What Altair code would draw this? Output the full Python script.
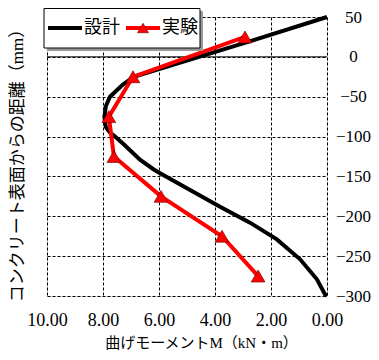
import altair as alt
import pandas as pd

# Design curve (設計): moment M (kN·m) vs distance from concrete surface (mm)
design_m = [0.00, 2.79, 6.90, 7.30, 7.60, 7.75, 7.90, 7.95, 7.90, 7.75, 7.57, 7.25, 6.68, 6.20, 5.96,
            4.89, 3.82, 2.75, 1.79, 0.96, 0.36, 0.07, 0.00]
design_y = [50, 19, -25, -35, -45, -50, -62, -75, -88, -95, -100, -110, -129, -141, -146,
            -167, -188, -208, -229, -254, -279, -298, -300]

# Experiment (実験)
exp_m = [2.93, 6.93, 7.79, 7.61, 5.93, 3.75, 2.46]
exp_y = [25, -25, -75, -125, -175, -225, -275]

x_ticks = [0, 2, 4, 6, 8, 10]
y_ticks = [-300, -250, -200, -150, -100, -50, 0, 50]

SERIF = "Liberation Serif, Noto Sans CJK JP"

design = pd.DataFrame({"m": design_m, "y": design_y, "i": list(range(len(design_m)))})
exp = pd.DataFrame({"m": exp_m, "y": exp_y, "i": list(range(len(exp_m)))})

xscale = alt.Scale(domain=[0, 10], reverse=True, nice=False)
yscale = alt.Scale(domain=[-300, 50], nice=False)

xaxis = alt.Axis(values=x_ticks, format=".2f", title="曲げモーメントM（kN・m）",
                 grid=True, gridColor="black", gridDash=[3, 2], gridWidth=1, gridOpacity=1,
                 ticks=False, tickSize=0, domain=False, labelFlush=False,
                 labelFont=SERIF, labelFontSize=18, labelColor="black",
                 labelPadding=15, labelBaseline="top",
                 titleFont=SERIF, titleFontSize=15, titleFontWeight="normal", titleColor="black",
                 titleX=154, titleY=46, titleBaseline="middle")

yaxis_right = alt.Axis(orient="right", values=y_ticks, format="d", title=None,
                       grid=True, gridColor="black", gridDash=[3, 2], gridWidth=1, gridOpacity=1,
                       ticks=False, tickSize=0, domain=False, labelFlush=False,
                       labelFont=SERIF, labelFontSize=17, labelColor="black",
                       labelAlign="center", labelBaseline="middle", labelPadding=26)

yaxis_left = alt.Axis(orient="left", title="コンクリート表面からの距離（mm）",
                      labels=False, ticks=False, tickSize=0, domain=False, grid=False,
                      titleFont=SERIF, titleFontSize=17, titleFontWeight="normal", titleColor="black",
                      titleX=-30, titleY=144, titleAngle=-90, titleBaseline="middle", titleAlign="center")

design_line = alt.Chart(design).mark_line(color="black", strokeWidth=4).encode(
    x=alt.X("m:Q", scale=xscale, axis=xaxis),
    y=alt.Y("y:Q", scale=yscale, axis=yaxis_right),
    order="i:Q",
)

zero_rule = alt.Chart(pd.DataFrame({"y": [0]})).mark_rule(color="black", strokeWidth=1).encode(
    y=alt.Y("y:Q", scale=yscale, axis=None)
)

exp_line = alt.Chart(exp).mark_line(color="#ff0000", strokeWidth=4).encode(
    x=alt.X("m:Q", scale=xscale),
    y=alt.Y("y:Q", scale=yscale, axis=yaxis_left),
    order="i:Q",
)

exp_pts = alt.Chart(exp).mark_point(shape="triangle-up", filled=True, fill="#ff0000",
                                    stroke="#600000", strokeWidth=0.6, size=190, opacity=1).encode(
    x=alt.X("m:Q", scale=xscale),
    y=alt.Y("y:Q", scale=yscale, axis=None),
)

# Legend
one = pd.DataFrame({"a": [0]})
leg_shadow = alt.Chart(one).mark_rect(fill="#9a9a9a").encode(
    x=alt.value(0), x2=alt.value(156), y=alt.value(-6), y2=alt.value(34))
leg_box = alt.Chart(one).mark_rect(fill="white", stroke="black", strokeWidth=1).encode(
    x=alt.value(-3), x2=alt.value(153), y=alt.value(-8.5), y2=alt.value(31))
leg_line1 = alt.Chart(one).mark_rule(color="black", strokeWidth=4).encode(
    x=alt.value(1), x2=alt.value(35), y=alt.value(11))
leg_line2 = alt.Chart(one).mark_rule(color="#ff0000", strokeWidth=4).encode(
    x=alt.value(79), x2=alt.value(113), y=alt.value(11))
leg_tri = alt.Chart(one).mark_point(shape="triangle-up", filled=True, fill="#ff0000",
                                    stroke="#600000", strokeWidth=0.6, size=120, opacity=1).encode(
    x=alt.value(96), y=alt.value(11))
leg_txt = alt.Chart(pd.DataFrame({"t": ["設計", "実験"], "px": [37, 115]})).mark_text(
    align="left", baseline="middle", font=SERIF, fontSize=18, color="black").encode(
    x=alt.X("px:Q", scale=None), y=alt.value(11), text="t:N")

chart = alt.layer(
    design_line, zero_rule, exp_line, exp_pts,
    leg_shadow, leg_box, leg_line1, leg_line2, leg_tri, leg_txt,
).resolve_axis(y="independent").properties(
    width=280, height=279,
    autosize=alt.AutoSizeParams(type="none"),
    padding={"left": 39, "top": 9, "right": 44, "bottom": 56},
).configure_view(stroke="black", strokeWidth=1.5).configure(background="white")

chart.save("out.html", embed_options={"renderer": "svg", "actions": False})
